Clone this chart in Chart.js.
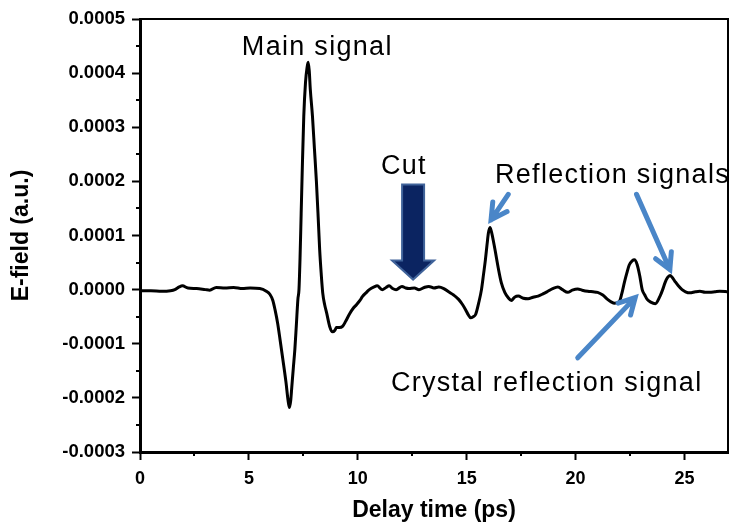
<!DOCTYPE html>
<html>
<head>
<meta charset="utf-8">
<script src="https://cdn.jsdelivr.net/npm/chart.js@4"></script>
<style>
  html, body { margin: 0; padding: 0; background: #fff; }
  #wrap { width: 732px; height: 527px; }
</style>
</head>
<body>
<div id="wrap"><canvas id="chart" width="732" height="527"></canvas></div>
<script>
// delay time (ps) and E-field (a.u.)
const delayTimes = [
  0.0, 0.5, 1.0, 1.4, 1.6, 1.8, 1.95, 2.2, 2.6, 3.0, 3.2, 3.5, 3.9, 4.3, 4.7, 5.06, 5.5, 5.8,
  5.97, 6.1, 6.2, 6.32, 6.43, 6.56, 6.7, 6.8, 6.86, 6.92, 6.97, 7.04, 7.11, 7.18, 7.25, 7.3,
  7.35, 7.4, 7.45, 7.52, 7.6, 7.67, 7.72, 7.77, 7.82, 7.92, 8.01, 8.1, 8.18, 8.25, 8.32, 8.39,
  8.48, 8.57, 8.71, 8.84, 8.95, 9.02, 9.15, 9.3, 9.45, 9.62, 9.8, 9.94, 10.1, 10.21, 10.4, 10.53,
  10.75, 10.89, 11.12, 11.3, 11.44, 11.6, 11.76, 12.03, 12.2, 12.35, 12.6, 12.81, 13.05, 13.26,
  13.5, 13.72, 13.95, 14.17, 14.4, 14.63, 14.8, 14.95, 15.08, 15.18, 15.3, 15.41, 15.55, 15.68,
  15.78, 15.86, 15.94, 16.0, 16.07, 16.15, 16.3, 16.45, 16.59, 16.75, 16.91, 17.05, 17.2, 17.37,
  17.6, 17.82, 18.05, 18.28, 18.5, 18.73, 18.95, 19.19, 19.4, 19.64, 19.85, 20.1, 20.3, 20.56,
  20.8, 21.01, 21.25, 21.47, 21.65, 21.79, 22.01, 22.12, 22.24, 22.35, 22.47, 22.6, 22.7, 22.83,
  22.95, 23.06, 23.18, 23.29, 23.45, 23.66, 23.88, 24.0, 24.11, 24.22, 24.34, 24.45, 24.57, 24.72,
  24.89, 25.05, 25.25, 25.5, 25.71, 25.95, 26.16, 26.4, 26.62, 27.0
];
const eField = [
  -0.000002, -0.000002, -0.000003, -0.000002, 0.000000, 0.000005, 0.000007, 0.000003, 0.000002, 0.000000, -0.000001, 0.000004, 0.000003, 0.000004, 0.000002, 0.000003, 0.000002, -0.000003,
  -0.000009, -0.000020, -0.000037, -0.000062, -0.000092, -0.000129, -0.000170, -0.000205, -0.000218, -0.000205, -0.000180, -0.000145, -0.000111, -0.000065, -0.000018, 0.000000,
  0.000060, 0.000140, 0.000220, 0.000320, 0.000383, 0.000410, 0.000420, 0.000405, 0.000370, 0.000320, 0.000260, 0.000200, 0.000135, 0.000074, 0.000030, -0.000006,
  -0.000028, -0.000043, -0.000068, -0.000078, -0.000075, -0.000070, -0.000070, -0.000068, -0.000058, -0.000045, -0.000034, -0.000028, -0.000020, -0.000013, -0.000005, 0.000000,
  0.000005, 0.000007, 0.000000, 0.000004, 0.000007, 0.000002, 0.000000, 0.000006, 0.000003, 0.000002, 0.000003, 0.000000, 0.000004, 0.000006,
  0.000003, 0.000005, 0.000002, -0.000004, -0.000010, -0.000018, -0.000027, -0.000037, -0.000047, -0.000052, -0.000050, -0.000046, -0.000025, 0.000000,
  0.000030, 0.000055, 0.000085, 0.000105, 0.000115, 0.000105, 0.000074, 0.000040, 0.000013, -0.000005, -0.000015, -0.000020, -0.000014, -0.000012,
  -0.000016, -0.000017, -0.000014, -0.000012, -0.000008, -0.000003, 0.000002, 0.000005, 0.000000, -0.000005, -0.000001, 0.000001, -0.000001, -0.000003,
  -0.000004, -0.000005, -0.000010, -0.000018, -0.000023, -0.000025, -0.000022, -0.000008, 0.000013, 0.000030, 0.000046, 0.000053, 0.000055, 0.000046,
  0.000025, 0.000000, -0.000010, -0.000018, -0.000023, -0.000026, -0.000012, 0.000000, 0.000013, 0.000022, 0.000026, 0.000022, 0.000015, 0.000007,
  0.000000, -0.000004, -0.000006, -0.000004, -0.000003, -0.000005, -0.000005, -0.000004, -0.000003, -0.000004
];

const xTicks = [0, 5, 10, 15, 20, 25];
const xMinorTicks = [2.5, 7.5, 12.5, 17.5, 22.5];
const yTicks = [-0.0003, -0.0002, -0.0001, 0, 0.0001, 0.0002, 0.0003, 0.0004, 0.0005];
const yMinorTicks = [-0.00025, -0.00015, -0.00005, 0.00005, 0.00015, 0.00025, 0.00035, 0.00045];

// annotation texts, placed in data coordinates
const labelTexts = ['Main signal', 'Cut', 'Reflection signals', 'Crystal reflection signal'];
const labelX = [8.14, 12.12, 16.3, 11.52];
const labelY = [0.000434, 0.000214, 0.000197, -0.000188];
const labelAlign = ['center', 'center', 'left', 'left'];

// blue pointer arrows: tail -> tip
const arrowTailX = [16.91, 22.8, 20.1];
const arrowTailY = [0.000176, 0.000176, -0.000126];
const arrowTipX = [16.12, 24.33, 22.74];
const arrowTipY = [0.000129, 0.000037, -0.0000148];

// the "Cut" block arrow
const cutX = 12.54;
const cutTopY = 0.000194;
const cutTipY = 0.0000185;

const FONT = '"Liberation Sans", Arial, Helvetica, sans-serif';

const annotate = {
  id: 'annotate',
  afterDraw(chart) {
    const ctx = chart.ctx;
    const xs = chart.scales.x, ys = chart.scales.y;
    const area = chart.chartArea;

    ctx.save();
    // frame top and right
    ctx.strokeStyle = '#000';
    ctx.lineWidth = 2;
    ctx.beginPath();
    ctx.moveTo(area.left, area.top);
    ctx.lineTo(area.right, area.top);
    ctx.lineTo(area.right, area.bottom);
    ctx.stroke();

    // minor ticks (outward)
    ctx.beginPath();
    yMinorTicks.forEach(v => {
      const py = Math.round(ys.getPixelForValue(v));
      ctx.moveTo(area.left - 4, py);
      ctx.lineTo(area.left, py);
    });
    xMinorTicks.forEach(v => {
      const px = Math.round(xs.getPixelForValue(v));
      ctx.moveTo(px, area.bottom);
      ctx.lineTo(px, area.bottom + 4);
    });
    ctx.stroke();

    // Cut arrow
    const cx = xs.getPixelForValue(cutX);
    const top = ys.getPixelForValue(cutTopY);
    const tip = ys.getPixelForValue(cutTipY);
    const headH = 19, shaftW = 11, headW = 21;
    ctx.beginPath();
    ctx.moveTo(cx - shaftW, top);
    ctx.lineTo(cx + shaftW, top);
    ctx.lineTo(cx + shaftW, tip - headH);
    ctx.lineTo(cx + headW, tip - headH);
    ctx.lineTo(cx, tip);
    ctx.lineTo(cx - headW, tip - headH);
    ctx.lineTo(cx - shaftW, tip - headH);
    ctx.closePath();
    ctx.fillStyle = '#0b2461';
    ctx.fill();
    ctx.strokeStyle = '#40639a';
    ctx.lineWidth = 2;
    ctx.stroke();

    // blue arrows
    ctx.strokeStyle = '#4a86c8';
    ctx.lineWidth = 5;
    ctx.lineCap = 'round';
    arrowTailX.forEach((_, i) => {
      const x0 = xs.getPixelForValue(arrowTailX[i]);
      const y0 = ys.getPixelForValue(arrowTailY[i]);
      const x1 = xs.getPixelForValue(arrowTipX[i]);
      const y1 = ys.getPixelForValue(arrowTipY[i]);
      const ang = Math.atan2(y1 - y0, x1 - x0);
      const len = 18;
      ctx.beginPath();
      ctx.moveTo(x0, y0);
      ctx.lineTo(x1, y1);
      ctx.moveTo(x1 - len * Math.cos(ang - 0.5), y1 - len * Math.sin(ang - 0.5));
      ctx.lineTo(x1, y1);
      ctx.lineTo(x1 - len * Math.cos(ang + 0.5), y1 - len * Math.sin(ang + 0.5));
      ctx.stroke();
    });

    // texts
    ctx.fillStyle = '#000';
    ctx.textBaseline = 'alphabetic';
    ctx.font = '27px ' + FONT;
    ctx.letterSpacing = '1.3px';
    labelTexts.forEach((t, i) => {
      ctx.textAlign = labelAlign[i];
      ctx.fillText(t, xs.getPixelForValue(labelX[i]), ys.getPixelForValue(labelY[i]));
    });
    ctx.restore();
  }
};

const ctx = document.getElementById('chart').getContext('2d');
const chart = new Chart(ctx, {
  type: 'line',
  data: {
    datasets: [{
      label: 'E-field',
      data: delayTimes.map((t, i) => ({ x: t, y: eField[i] })),
      borderColor: '#000',
      borderWidth: 3,
      pointRadius: 0,
      cubicInterpolationMode: 'monotone',
      fill: false,
    }]
  },
  options: {
    responsive: false,
    animation: false,
    layout: { padding: { top: 19, right: 4, left: 0, bottom: 0 } },
    plugins: { legend: { display: false }, tooltip: { enabled: false } },
    scales: {
      x: {
        type: 'linear',
        min: 0,
        max: 27,
        afterBuildTicks: s => { s.ticks = xTicks.map(v => ({ value: v })); },
        afterFit: s => { s.height = 75; },
        grid: { drawOnChartArea: false, drawTicks: true, tickLength: 8, tickWidth: 2, tickColor: '#000' },
        border: { display: true, color: '#000', width: 3 },
        ticks: { color: '#000', padding: 8, maxRotation: 0, font: { family: FONT, size: 18, weight: 'bold' } },
        title: { display: true, text: 'Delay time (ps)', color: '#000', padding: { top: 0, bottom: 3 }, font: { family: FONT, size: 23, weight: 'bold' } }
      },
      y: {
        type: 'linear',
        min: -0.0003,
        max: 0.0005,
        afterBuildTicks: s => { s.ticks = yTicks.map(v => ({ value: v })); },
        afterFit: s => { s.width = 140; },
        grid: { drawOnChartArea: false, drawTicks: true, tickLength: 8, tickWidth: 2, tickColor: '#000' },
        border: { display: true, color: '#000', width: 3 },
        ticks: { color: '#000', padding: 7, callback: v => Number(v).toFixed(4), font: { family: FONT, size: 18.5, weight: 'bold' } },
        title: { display: true, text: 'E-field (a.u.)', color: '#000', padding: { top: 8, bottom: 0 }, font: { family: FONT, size: 23, weight: 'bold' } }
      }
    }
  },
  plugins: [annotate]
});
</script>
</body>
</html>
